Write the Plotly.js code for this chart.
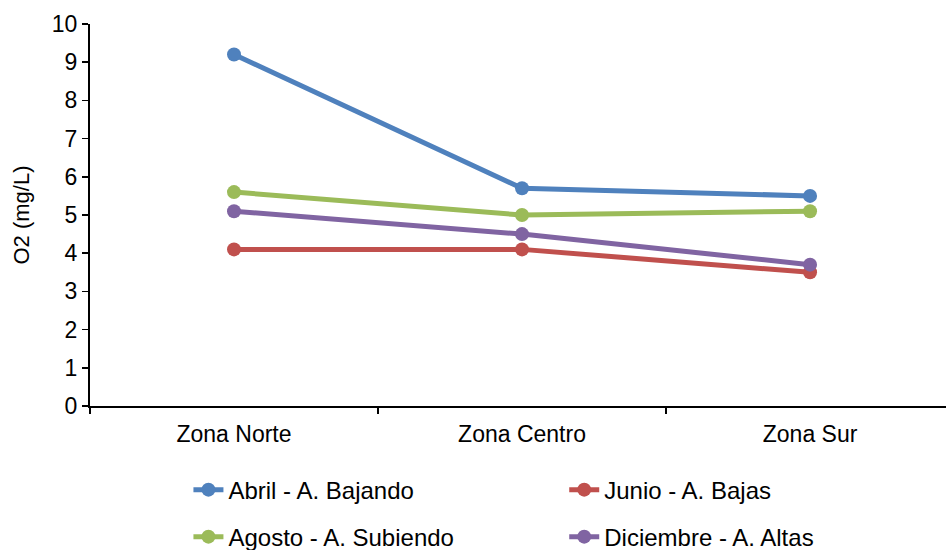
<!DOCTYPE html>
<html>
<head>
<meta charset="utf-8">
<script src="https://cdn.plot.ly/plotly-3.0.1.min.js"></script>
<style>html,body{margin:0;padding:0;background:#fff;}#chart{width:946px;height:550px;}</style>
</head>
<body>
<div id="chart"></div>
<script>
var categories = ["Zona Norte", "Zona Centro", "Zona Sur"];
var seriesNames = ["Abril - A. Bajando", "Junio - A. Bajas", "Agosto - A. Subiendo", "Diciembre - A. Altas"];
var abril = [9.2, 5.7, 5.5];
var junio = [4.1, 4.1, 3.5];
var agosto = [5.6, 5.0, 5.1];
var diciembre = [5.1, 4.5, 3.7];
var colors = ["#4F81BD", "#C0504D", "#9BBB59", "#8064A2"];
var yTicks = [0, 1, 2, 3, 4, 5, 6, 7, 8, 9, 10];

var values = [abril, junio, agosto, diciembre];
var legendIds = ["legend", "legend2", "legend3", "legend4"];
var traces = values.map(function (v, i) {
  return {
    x: categories, y: v, name: seriesNames[i], type: "scatter", mode: "lines+markers",
    line: {color: colors[i], width: 5},
    marker: {color: colors[i], size: 14},
    legend: legendIds[i]
  };
});

var font = {family: "Liberation Sans, Arial, sans-serif", size: 23, color: "#000"};
var legFont = {family: font.family, size: 24, color: "#000"};
function leg(x, y) {
  return {orientation: "h", xanchor: "left", yanchor: "middle", x: x, y: y,
    font: legFont, bgcolor: "rgba(0,0,0,0)", borderwidth: 0};
}
var layout = {
  width: 946, height: 550,
  margin: {l: 90, r: 0, t: 24, b: 144, autoexpand: false},
  paper_bgcolor: "#fff", plot_bgcolor: "#fff",
  font: font,
  showlegend: true,
  xaxis: {
    type: "category", range: [-0.5, 2.472], showgrid: false, zeroline: false,
    showline: true, linecolor: "#000", linewidth: 2,
    ticks: "outside", tickson: "boundaries", ticklen: 6, tickwidth: 1.5, tickcolor: "#000",
    tickfont: font, automargin: false, ticklabelstandoff: 6
  },
  yaxis: {
    range: [0, 10], tickvals: yTicks, showgrid: false, zeroline: false,
    showline: true, linecolor: "#000", linewidth: 2,
    ticks: "outside", ticklen: 6, tickwidth: 1.5, tickcolor: "#000",
    tickfont: font, automargin: false,
    title: {text: "O2 (mg/L)", font: {family: font.family, size: 22, color: "#000"}, standoff: 16}
  },
  legend: leg(0.115, -0.22),
  legend2: leg(0.554, -0.22),
  legend3: leg(0.115, -0.343),
  legend4: leg(0.554, -0.343)
};
Plotly.newPlot("chart", traces, layout, {displayModeBar: false, staticPlot: true});
</script>
</body>
</html>
